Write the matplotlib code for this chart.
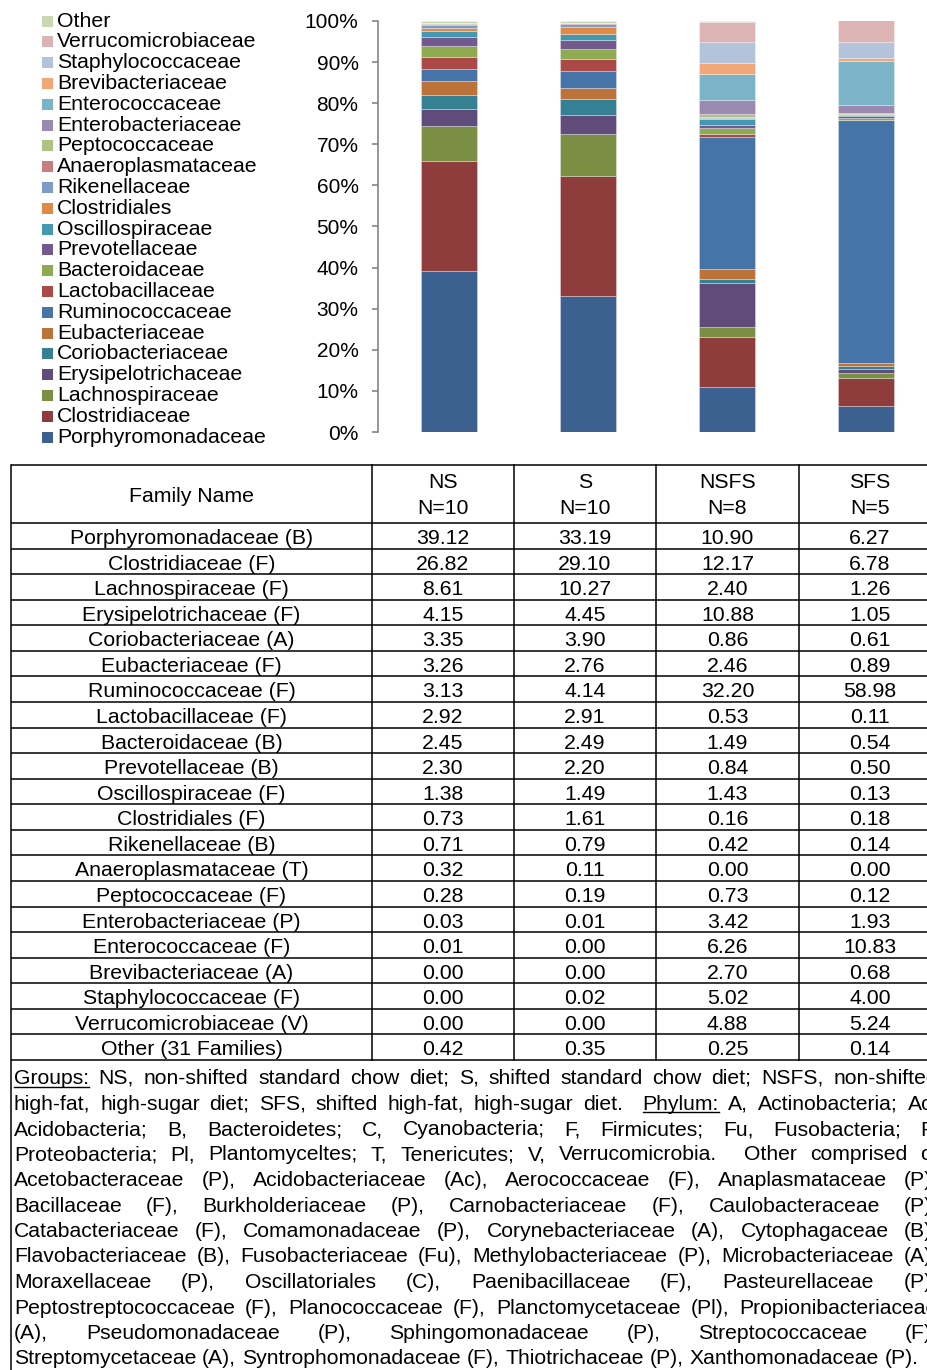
import numpy as np
import matplotlib
matplotlib.use('Agg')
import matplotlib.pyplot as plt
from matplotlib.patches import Rectangle

plt.rcParams['font.family'] = ['Liberation Sans', 'DejaVu Sans']

# families in stacking order (bottom -> top)
families = ['Porphyromonadaceae', 'Clostridiaceae', 'Lachnospiraceae', 'Erysipelotrichaceae',
            'Coriobacteriaceae', 'Eubacteriaceae', 'Ruminococcaceae', 'Lactobacillaceae',
            'Bacteroidaceae', 'Prevotellaceae', 'Oscillospiraceae', 'Clostridiales',
            'Rikenellaceae', 'Anaeroplasmataceae', 'Peptococcaceae', 'Enterobacteriaceae',
            'Enterococcaceae', 'Brevibacteriaceae', 'Staphylococcaceae', 'Verrucomicrobiaceae',
            'Other']
table_names = ['Porphyromonadaceae (B)', 'Clostridiaceae (F)', 'Lachnospiraceae (F)',
               'Erysipelotrichaceae (F)', 'Coriobacteriaceae (A)', 'Eubacteriaceae (F)',
               'Ruminococcaceae (F)', 'Lactobacillaceae (F)', 'Bacteroidaceae (B)',
               'Prevotellaceae (B)', 'Oscillospiraceae (F)', 'Clostridiales (F)',
               'Rikenellaceae (B)', 'Anaeroplasmataceae (T)', 'Peptococcaceae (F)',
               'Enterobacteriaceae (P)', 'Enterococcaceae (F)', 'Brevibacteriaceae (A)',
               'Staphylococcaceae (F)', 'Verrucomicrobiaceae (V)', 'Other (31 Families)']

groups = ['NS', 'S', 'NSFS', 'SFS']
group_n = ['N=10', 'N=10', 'N=8', 'N=5']

ns = [39.12, 26.82, 8.61, 4.15, 3.35, 3.26, 3.13, 2.92, 2.45, 2.30, 1.38, 0.73, 0.71,
      0.32, 0.28, 0.03, 0.01, 0.00, 0.00, 0.00, 0.42]
s = [33.19, 29.10, 10.27, 4.45, 3.90, 2.76, 4.14, 2.91, 2.49, 2.20, 1.49, 1.61, 0.79,
     0.11, 0.19, 0.01, 0.00, 0.00, 0.02, 0.00, 0.35]
nsfs = [10.90, 12.17, 2.40, 10.88, 0.86, 2.46, 32.20, 0.53, 1.49, 0.84, 1.43, 0.16, 0.42,
        0.00, 0.73, 3.42, 6.26, 2.70, 5.02, 4.88, 0.25]
sfs = [6.27, 6.78, 1.26, 1.05, 0.61, 0.89, 58.98, 0.11, 0.54, 0.50, 0.13, 0.18, 0.14,
       0.00, 0.12, 1.93, 10.83, 0.68, 4.00, 5.24, 0.14]

colors = ['#3C6090', '#8E3C3C', '#7A8E44', '#5F4C7A', '#358193', '#BC7239', '#4674A8',
          '#AA4946', '#8FAB52', '#735A8E', '#4499B0', '#E08A48', '#7D9CC8', '#C97D7C',
          '#AEC381', '#9A89B0', '#7BB4C8', '#F2A77A', '#B4C3DC', '#DBB4B3', '#C8D8B4']

footnote = [
    "Groups: NS, non-shifted standard chow diet; S, shifted standard chow diet; NSFS, non-shifted",
    "high-fat, high-sugar diet; SFS, shifted high-fat, high-sugar diet.  Phylum: A, Actinobacteria; Ac,",
    "Acidobacteria; B, Bacteroidetes; C, Cyanobacteria; F, Firmicutes; Fu, Fusobacteria; P,",
    "Proteobacteria; Pl, Plantomyceltes; T, Tenericutes; V, Verrucomicrobia.  Other comprised of",
    "Acetobacteraceae (P), Acidobacteriaceae (Ac), Aerococcaceae (F), Anaplasmataceae (P),",
    "Bacillaceae (F), Burkholderiaceae (P), Carnobacteriaceae (F), Caulobacteraceae (P),",
    "Catabacteriaceae (F), Comamonadaceae (P), Corynebacteriaceae (A), Cytophagaceae (B),",
    "Flavobacteriaceae (B), Fusobacteriaceae (Fu), Methylobacteriaceae (P), Microbacteriaceae (A),",
    "Moraxellaceae (P), Oscillatoriales (C), Paenibacillaceae (F), Pasteurellaceae (P),",
    "Peptostreptococcaceae (F), Planococcaceae (F), Planctomycetaceae (Pl), Propionibacteriaceae",
    "(A), Pseudomonadaceae (P), Sphingomonadaceae (P), Streptococcaceae (F),",
    "Streptomycetaceae (A), Syntrophomonadaceae (F), Thiotrichaceae (P), Xanthomonadaceae (P).",
]

W, H = 928, 1370
FS = 15        # tick labels
FS_T = 15.3    # legend + table
FS_N = 15.2    # footnote
fig = plt.figure(figsize=(W / 100, H / 100), dpi=100)

## stacked bar chart
ax = fig.add_axes([378 / W, 1 - 432 / H, (937 - 378) / W, 411 / H])
data = np.array([ns, s, nsfs, sfs])
x = np.arange(len(groups))
bottom = np.zeros(len(groups))
for i, fam in enumerate(families):
    ax.bar(x, data[:, i], 0.403, bottom=bottom, color=colors[i],
           edgecolor=(1, 1, 1, 0.35), linewidth=0.6, label=fam)
    bottom += data[:, i]

ax.set_xlim(-0.511, 3.511)
ax.set_ylim(0, 100)
ax.set_yticks(range(0, 101, 10))
ax.set_yticklabels([str(v) + '%' for v in range(0, 101, 10)], fontsize=FS)
ax.set_xticks([])
for side in ['top', 'right', 'bottom']:
    ax.spines[side].set_visible(False)
ax.spines['left'].set_color('#868686')
ax.spines['left'].set_linewidth(1.2)
ax.tick_params(axis='y', direction='out', length=4, width=1.2, color='#868686', pad=10)

## overlay axes in pixel coords for legend + table
tab = fig.add_axes([0, 0, 1, 1])
tab.set_xlim(0, W)
tab.set_ylim(H, 0)
tab.axis('off')

# legend (top entry = last family)
for k, i in enumerate(range(len(families) - 1, -1, -1)):
    yc = 21 + k * 20.8
    tab.add_patch(Rectangle((42, yc - 5.5), 11, 11, color=colors[i], lw=0))
    tab.text(57, yc, families[i], fontsize=FS_T, va='center', ha='left')

# table grid
lw = 1.1
top, head_bot, row_h = 465, 523, (1060 - 523) / 21
col_x = [11, 372, 514, 656, 799, 941]
rows_y = [top, head_bot] + [head_bot + row_h * (k + 1) for k in range(21)]
for yy in rows_y:
    tab.plot([col_x[0], col_x[-1]], [yy, yy], color='black', lw=lw, solid_capstyle='butt')
tab.plot([col_x[0], col_x[0]], [top, H], color='black', lw=lw)
for xx in col_x[1:]:
    tab.plot([xx, xx], [top, rows_y[-1]], color='black', lw=lw)

centers = [(col_x[j] + col_x[j + 1]) / 2 for j in range(5)]
tab.text(centers[0], 501.5, 'Family Name', fontsize=FS_T, ha='center', va='baseline')
for j, g in enumerate(groups):
    tab.text(centers[j + 1], 488, g, fontsize=FS_T, ha='center', va='baseline')
    tab.text(centers[j + 1], 514, group_n[j], fontsize=FS_T, ha='center', va='baseline')

for r, name in enumerate(table_names):
    base = head_bot + row_h * r + 21
    tab.text(centers[0], base, name, fontsize=FS_T, ha='center', va='baseline')
    for j in range(4):
        tab.text(centers[j + 1], base, '%.2f' % data[j, r], fontsize=FS_T, ha='center', va='baseline')

# footnote, justified
renderer = fig.canvas.get_renderer()
L, R = 14, 938


def width_of(t):
    return t.get_window_extent(renderer).width if t.get_text() else 0.0


sp = tab.text(0, -100, 'a a', fontsize=FS_N)
sp2 = tab.text(0, -100, 'aa', fontsize=FS_N)
space_w = width_of(sp) - width_of(sp2)
sp.remove()
sp2.remove()

for li, line in enumerate(footnote):
    base = 1084 + 25.5 * li
    tokens = line.split(' ')
    objs = [tab.text(0, base, tok, fontsize=FS_N, ha='left', va='baseline') for tok in tokens]
    widths = [width_of(o) for o in objs]
    if li < len(footnote) - 1:
        gap = (R - L - sum(widths)) / (len(tokens) - 1)
    else:
        gap = space_w
    xpos = L
    for o, w, tok in zip(objs, widths, tokens):
        o.set_x(xpos)
        if tok in ('Groups:', 'Phylum:'):
            tab.plot([xpos, xpos + w], [base + 2.5, base + 2.5], color='black', lw=1.0)
        xpos += w + gap

fig.savefig('out.png', dpi=100)
